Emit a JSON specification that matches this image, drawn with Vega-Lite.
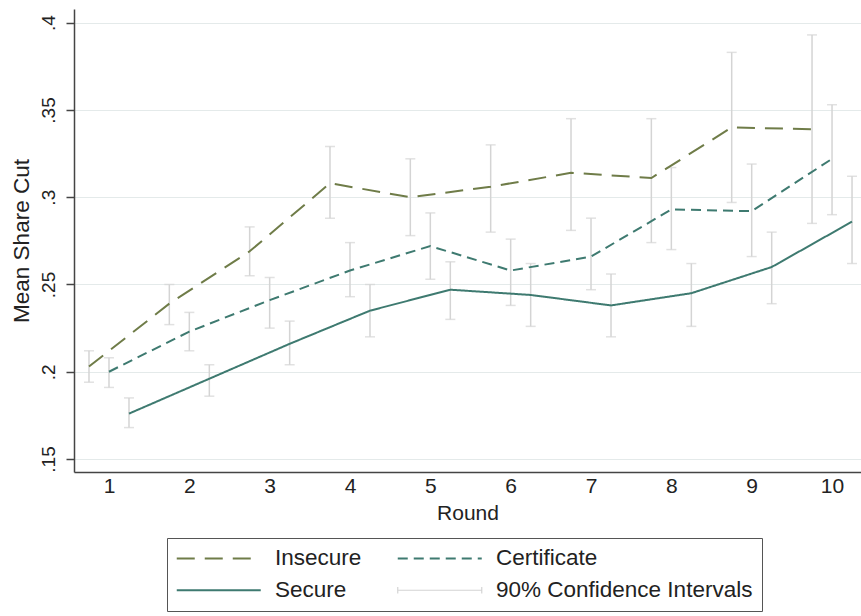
{
  "$schema": "https://vega.github.io/schema/vega-lite/v6.json",
  "width": 787,
  "height": 463,
  "autosize": {"type": "none"},
  "padding": {"left": 74, "top": 9, "right": 0, "bottom": 144},
  "background": "white",
  "config": {
    "view": {"stroke": null},
    "font": "Liberation Sans",
    "axis": {
      "labelFont": "Liberation Sans",
      "titleFont": "Liberation Sans",
      "labelColor": "#222222",
      "titleColor": "#222222",
      "titleFontWeight": "normal",
      "domainColor": "#444444",
      "domainWidth": 1.5,
      "tickColor": "#444444",
      "tickWidth": 1.5
    },
    "legend": {
      "labelFont": "Liberation Sans",
      "labelFontSize": 22.5,
      "labelColor": "#222222",
      "labelLimit": 400
    }
  },
  "data": {
    "values": [
      {"round": 1, "group": "Insecure", "mean": 0.203, "lo": 0.194, "hi": 0.212},
      {"round": 2, "group": "Insecure", "mean": 0.239, "lo": 0.227, "hi": 0.250},
      {"round": 3, "group": "Insecure", "mean": 0.269, "lo": 0.255, "hi": 0.283},
      {"round": 4, "group": "Insecure", "mean": 0.308, "lo": 0.288, "hi": 0.329},
      {"round": 5, "group": "Insecure", "mean": 0.300, "lo": 0.278, "hi": 0.322},
      {"round": 6, "group": "Insecure", "mean": 0.306, "lo": 0.280, "hi": 0.330},
      {"round": 7, "group": "Insecure", "mean": 0.314, "lo": 0.281, "hi": 0.345},
      {"round": 8, "group": "Insecure", "mean": 0.311, "lo": 0.274, "hi": 0.345},
      {"round": 9, "group": "Insecure", "mean": 0.340, "lo": 0.297, "hi": 0.383},
      {"round": 10, "group": "Insecure", "mean": 0.339, "lo": 0.285, "hi": 0.393},
      {"round": 1, "group": "Certificate", "mean": 0.200, "lo": 0.191, "hi": 0.208},
      {"round": 2, "group": "Certificate", "mean": 0.223, "lo": 0.212, "hi": 0.234},
      {"round": 3, "group": "Certificate", "mean": 0.241, "lo": 0.225, "hi": 0.254},
      {"round": 4, "group": "Certificate", "mean": 0.258, "lo": 0.243, "hi": 0.274},
      {"round": 5, "group": "Certificate", "mean": 0.272, "lo": 0.253, "hi": 0.291},
      {"round": 6, "group": "Certificate", "mean": 0.258, "lo": 0.238, "hi": 0.276},
      {"round": 7, "group": "Certificate", "mean": 0.266, "lo": 0.247, "hi": 0.288},
      {"round": 8, "group": "Certificate", "mean": 0.293, "lo": 0.270, "hi": 0.317},
      {"round": 9, "group": "Certificate", "mean": 0.292, "lo": 0.266, "hi": 0.319},
      {"round": 10, "group": "Certificate", "mean": 0.322, "lo": 0.290, "hi": 0.353},
      {"round": 1, "group": "Secure", "mean": 0.176, "lo": 0.168, "hi": 0.185},
      {"round": 2, "group": "Secure", "mean": 0.196, "lo": 0.186, "hi": 0.204},
      {"round": 3, "group": "Secure", "mean": 0.216, "lo": 0.204, "hi": 0.229},
      {"round": 4, "group": "Secure", "mean": 0.235, "lo": 0.220, "hi": 0.250},
      {"round": 5, "group": "Secure", "mean": 0.247, "lo": 0.230, "hi": 0.263},
      {"round": 6, "group": "Secure", "mean": 0.244, "lo": 0.226, "hi": 0.262},
      {"round": 7, "group": "Secure", "mean": 0.238, "lo": 0.220, "hi": 0.256},
      {"round": 8, "group": "Secure", "mean": 0.245, "lo": 0.226, "hi": 0.262},
      {"round": 9, "group": "Secure", "mean": 0.260, "lo": 0.239, "hi": 0.280},
      {"round": 10, "group": "Secure", "mean": 0.286, "lo": 0.262, "hi": 0.312}
    ]
  },
  "encoding": {
    "x": {
      "field": "round",
      "type": "ordinal",
      "scale": {"type": "point", "padding": 0.398, "align": 0.547},
      "axis": {
        "title": "Round",
        "titleFontSize": 21,
        "titlePadding": 6,
        "labelFontSize": 21,
        "labelAngle": 0,
        "labelPadding": 3,
        "ticks": false,
        "tickSize": 0,
        "grid": false
      }
    },
    "xOffset": {
      "field": "group",
      "type": "nominal",
      "scale": {"type": "point", "domain": ["Insecure", "Certificate", "Secure"], "range": [-20, 20], "padding": 0}
    }
  },
  "layer": [
    {
      "mark": {"type": "rule", "color": "#d4d4d4", "strokeWidth": 1.5},
      "encoding": {
        "y": {
          "field": "lo",
          "type": "quantitative",
          "scale": {"domain": [0.14255, 0.40785], "nice": false, "zero": false},
          "axis": {
            "title": "Mean Share Cut",
            "titleFontSize": 22.5,
            "titlePadding": 6,
            "values": [0.15, 0.2, 0.25, 0.3, 0.35, 0.4],
            "labelExpr": "replace(format(datum.value, '.2~f'), '0.', '.')",
            "labelAngle": -90,
            "labelFontSize": 19,
            "labelPadding": 8,
            "tickSize": 8,
            "grid": true,
            "gridColor": "#e4eaea",
            "gridWidth": 1
          }
        },
        "y2": {"field": "hi"}
      }
    },
    {
      "mark": {"type": "tick", "color": "#d4d4d4", "size": 10, "thickness": 1.5, "orient": "horizontal"},
      "encoding": {"y": {"field": "lo", "type": "quantitative"}}
    },
    {
      "mark": {"type": "tick", "color": "#d4d4d4", "size": 10, "thickness": 1.5, "orient": "horizontal"},
      "encoding": {"y": {"field": "hi", "type": "quantitative"}}
    },
    {
      "mark": {"type": "line", "strokeWidth": 2},
      "encoding": {
        "y": {"field": "mean", "type": "quantitative"},
        "color": {
          "field": "group",
          "type": "nominal",
          "scale": {
            "domain": ["Insecure", "Secure", "Certificate", "90% Confidence Intervals"],
            "range": ["#6f7c48", "#3e7a70", "#3e7a70", "#d4d4d4"]
          },
          "legend": {
            "title": null,
            "orient": "none",
            "legendX": 93,
            "legendY": 529,
            "columns": 2,
            "columnPadding": 31,
            "rowPadding": 9,
            "padding": 9,
            "strokeColor": "#555555",
            "fillColor": "white",
            "symbolType": "stroke",
            "symbolSize": 7056,
            "symbolStrokeWidth": 2,
            "symbolOffset": 31.5,
            "labelOffset": 45,
            "encode": {
              "symbols": {
                "update": {
                  "strokeWidth": {"signal": "datum.value === '90% Confidence Intervals' ? 1.2 : 2"},
                  "shape": {"signal": "datum.value === '90% Confidence Intervals' ? 'M-1,-0.08V0.08M-1,0H1M1,-0.08V0.08' : 'stroke'"}
                }
              }
            }
          }
        },
        "strokeDash": {
          "field": "group",
          "type": "nominal",
          "scale": {
            "domain": ["Insecure", "Secure", "Certificate", "90% Confidence Intervals"],
            "range": [[18, 10], [1, 0], [10, 6], [1, 0]]
          },
          "legend": {
            "title": null,
            "orient": "none",
            "legendX": 93,
            "legendY": 529,
            "columns": 2,
            "columnPadding": 31,
            "rowPadding": 9,
            "padding": 9,
            "strokeColor": "#555555",
            "fillColor": "white",
            "symbolType": "stroke",
            "symbolSize": 7056,
            "symbolStrokeWidth": 2,
            "symbolOffset": 31.5,
            "labelOffset": 45,
            "encode": {
              "symbols": {
                "update": {
                  "strokeWidth": {"signal": "datum.value === '90% Confidence Intervals' ? 1.2 : 2"},
                  "shape": {"signal": "datum.value === '90% Confidence Intervals' ? 'M-1,-0.08V0.08M-1,0H1M1,-0.08V0.08' : 'stroke'"}
                }
              }
            }
          }
        }
      }
    }
  ]
}
